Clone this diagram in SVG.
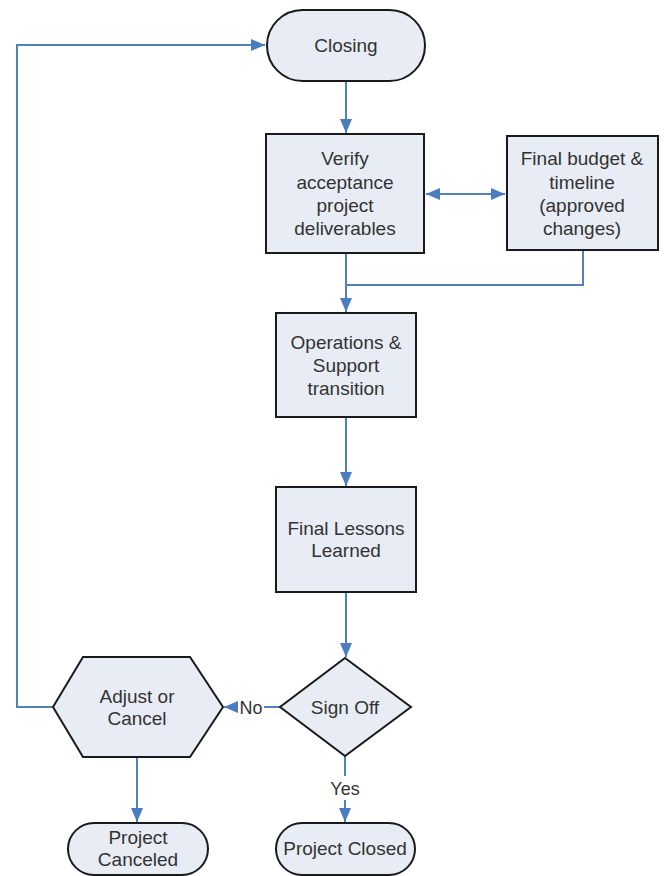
<svg xmlns="http://www.w3.org/2000/svg" width="665" height="876" viewBox="0 0 665 876">
<defs>
<marker id="ah" markerUnits="userSpaceOnUse" markerWidth="16" markerHeight="16" viewBox="0 0 16 16" refX="15" refY="8" orient="auto-start-reverse">
<path d="M1,2 L15,8 L1,14 Z" fill="#4a7dbf"/>
</marker>
<style>
.node{fill:#e8ecf4;stroke:#1a1a1a;stroke-width:2}
.conn{fill:none;stroke:#4f81bd;stroke-width:2}
text{font-family:"Liberation Sans",Arial,sans-serif;font-size:19px;fill:#333;text-anchor:middle}
.lbl{font-size:18px}
</style>
</defs>
<rect width="665" height="876" fill="#fff"/>
<g id="connectors">
<line class="conn" x1="346" y1="81" x2="346" y2="133" marker-end="url(#ah)"/>
<line class="conn" x1="426" y1="194" x2="505" y2="194" marker-start="url(#ah)" marker-end="url(#ah)"/>
<line class="conn" x1="346" y1="253" x2="346" y2="312" marker-end="url(#ah)"/>
<polyline class="conn" points="583,250 583,285 346,285"/>
<line class="conn" x1="346" y1="417" x2="346" y2="486" marker-end="url(#ah)"/>
<line class="conn" x1="346" y1="592" x2="346" y2="657" marker-end="url(#ah)"/>
<line class="conn" x1="280" y1="707" x2="264" y2="707"/>
<line class="conn" x1="238" y1="707" x2="224" y2="707" marker-end="url(#ah)"/>
<text x="251" y="714" class="lbl">No</text>
<line class="conn" x1="345" y1="756" x2="345" y2="776"/>
<line class="conn" x1="345" y1="800" x2="345" y2="822" marker-end="url(#ah)"/>
<text x="345" y="795" class="lbl">Yes</text>
<polyline class="conn" points="53,707 17,707 17,45 265,45" marker-end="url(#ah)"/>
<line class="conn" x1="137" y1="757" x2="137" y2="822" marker-end="url(#ah)"/>
</g>
<g id="closing">
<rect class="node" x="267" y="10" width="158" height="71" rx="35.5"/>
<text x="346" y="52">Closing</text>
</g>
<g id="verify">
<rect class="node" x="266" y="134" width="158" height="119"/>
<text x="345" y="165">Verify</text>
<text x="345" y="189">acceptance</text>
<text x="345" y="212">project</text>
<text x="345" y="235">deliverables</text>
</g>
<g id="budget">
<rect class="node" x="507" y="136" width="151" height="114"/>
<text x="582" y="165">Final budget &amp;</text>
<text x="582" y="189">timeline</text>
<text x="582" y="212">(approved</text>
<text x="582" y="235">changes)</text>
</g>
<g id="operations">
<rect class="node" x="276" y="313" width="140" height="104"/>
<text x="346" y="349">Operations &amp;</text>
<text x="346" y="372">Support</text>
<text x="346" y="395">transition</text>
</g>
<g id="lessons">
<rect class="node" x="276" y="487" width="140" height="105"/>
<text x="346" y="535">Final Lessons</text>
<text x="346" y="557">Learned</text>
</g>
<g id="signoff">
<polygon class="node" points="345,658 411,707 345,756 280,707"/>
<text x="345" y="714">Sign Off</text>
</g>
<g id="adjust">
<polygon class="node" points="53,707 83,657 190,657 223,707 190,757 83,757"/>
<text x="137" y="703">Adjust or</text>
<text x="137" y="725">Cancel</text>
</g>
<g id="canceled">
<rect class="node" x="68" y="823" width="140" height="52" rx="26"/>
<text x="138" y="844">Project</text>
<text x="138" y="866">Canceled</text>
</g>
<g id="closed">
<rect class="node" x="276" y="823" width="139" height="52" rx="26"/>
<text x="345" y="855">Project Closed</text>
</g>
</svg>
